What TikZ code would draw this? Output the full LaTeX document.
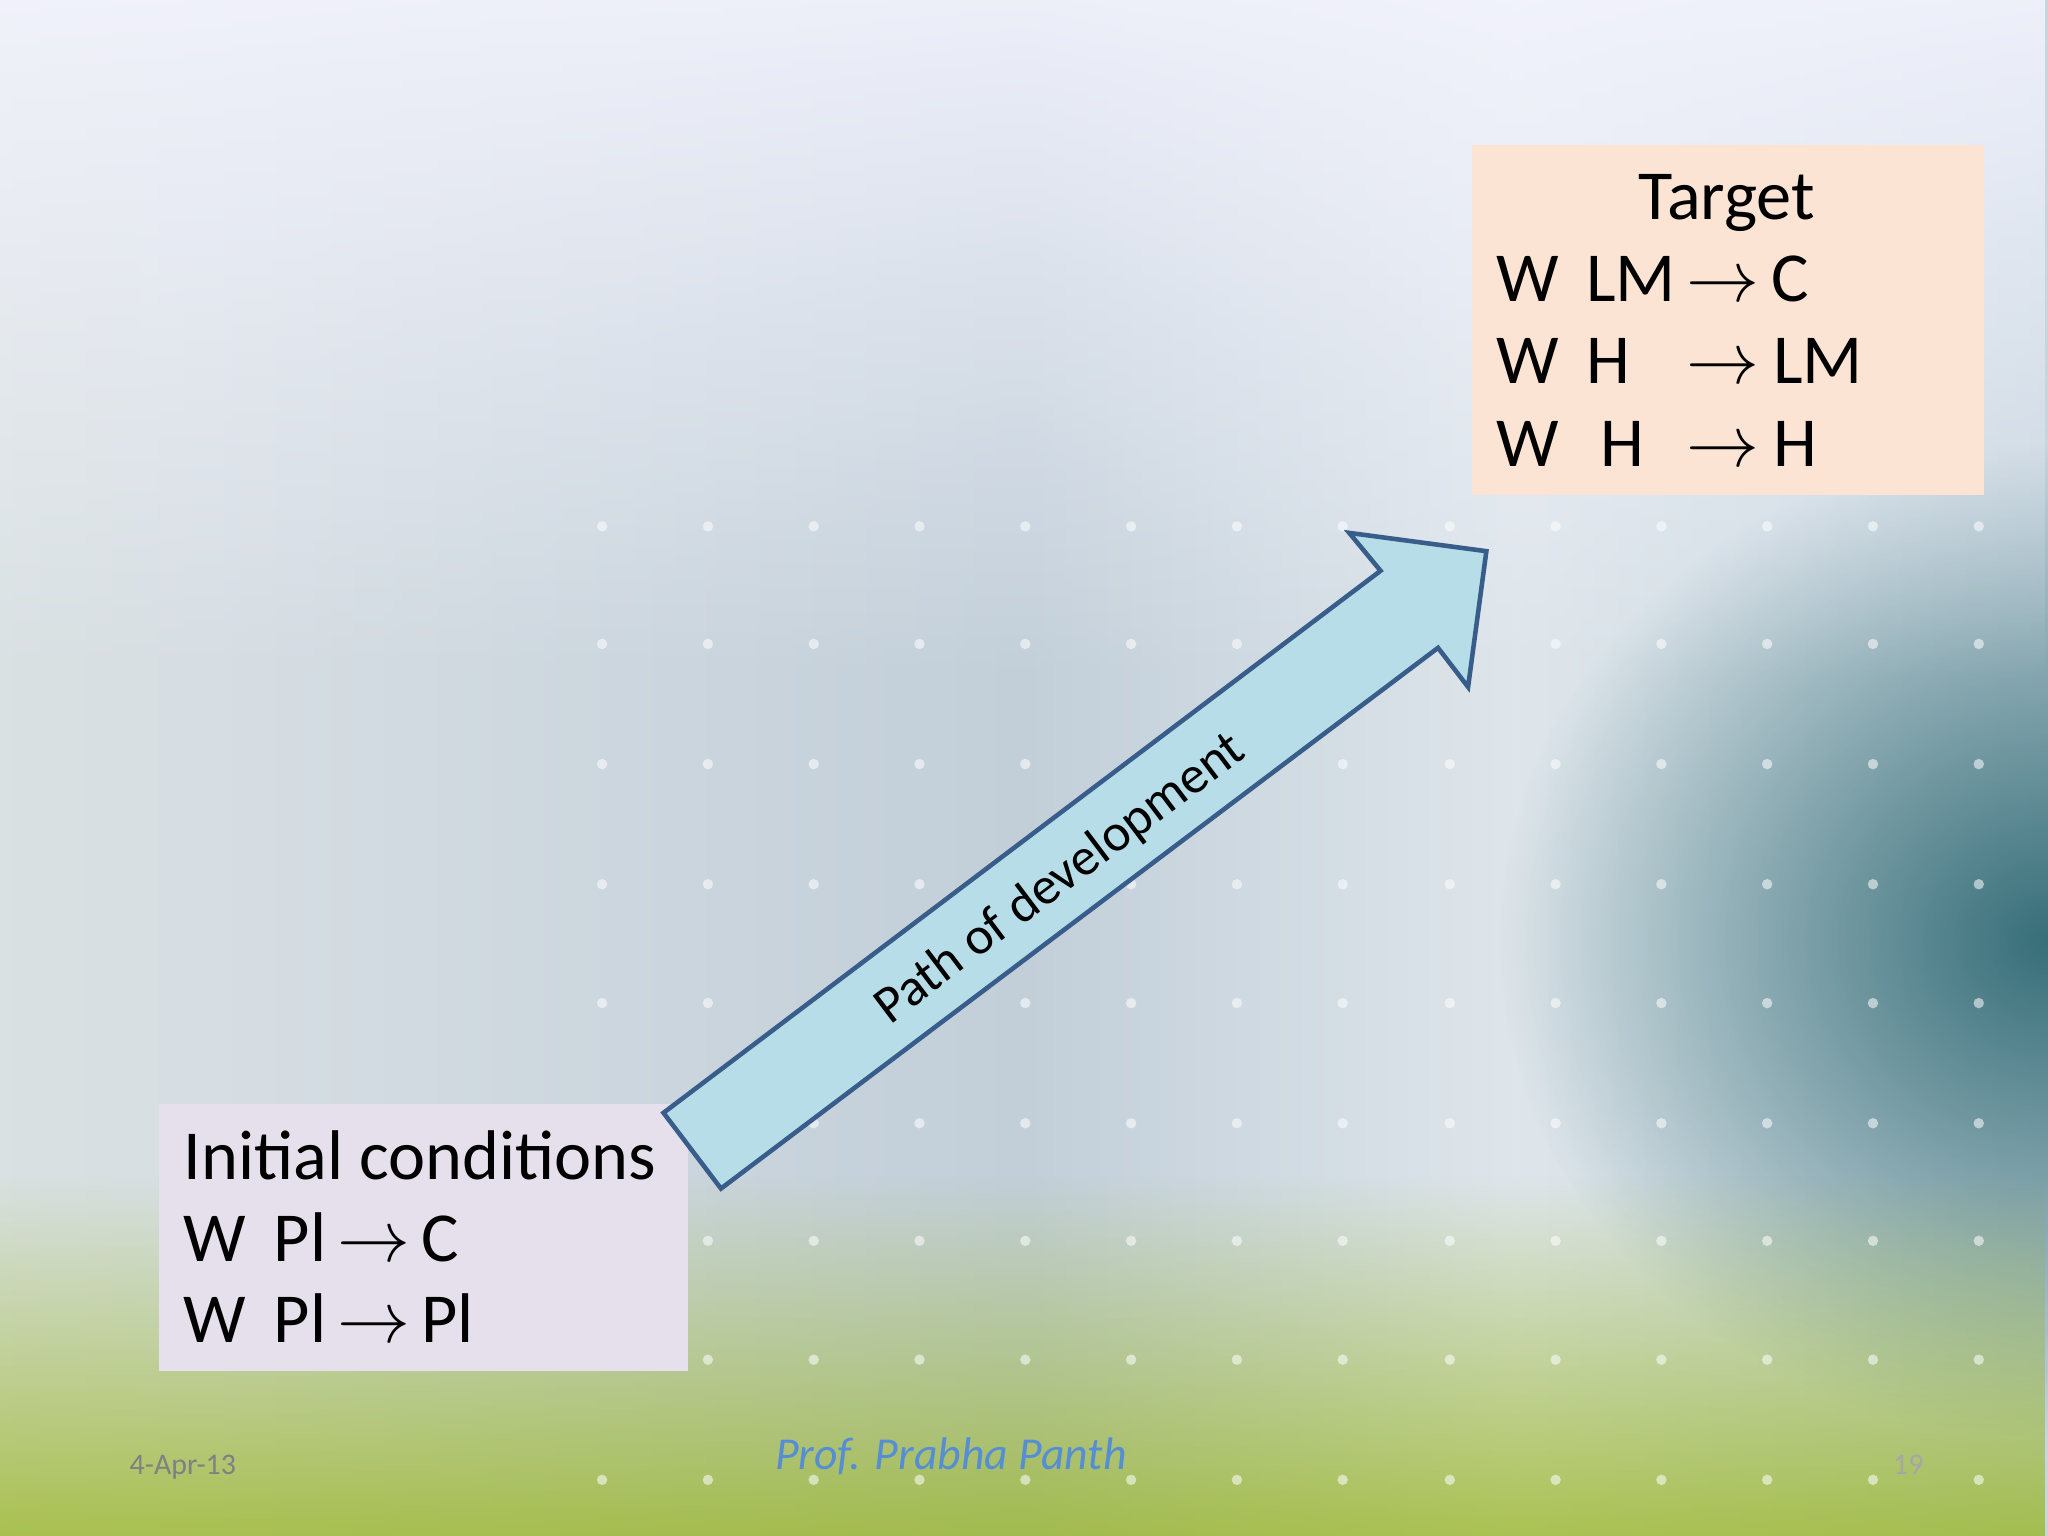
\documentclass[tikz,border=0pt]{standalone}
\usepackage{fontspec}
\setmainfont{Carlito}
\usetikzlibrary{fadings}
\definecolor{arrfill}{RGB}{183,222,232}
\definecolor{arrline}{RGB}{56,93,138}
\definecolor{lav}{RGB}{230,224,236}
\definecolor{peach}{RGB}{252,228,212}
\definecolor{authc}{RGB}{85,142,213}
\definecolor{tealbg}{RGB}{40,100,110}
\tikzfading[name=softblob, inner color=transparent!0, outer color=transparent!100]
\pgfdeclarehorizontalshading{bgh}{100bp}{
  rgb(0bp)=(0.90,0.91,0.80);
  rgb(12bp)=(0.88,0.91,0.87);
  rgb(30bp)=(0.84,0.87,0.89);
  rgb(50bp)=(0.76,0.81,0.85);
  rgb(62bp)=(0.87,0.90,0.92);
  rgb(78bp)=(0.76,0.82,0.86);
  rgb(100bp)=(0.70,0.78,0.82)}
\begin{document}
\begin{tikzpicture}[x=0.013061cm,y=-0.013061cm,
  tok/.style={anchor=base west,inner sep=0pt,font=\fontsize{20}{24}\selectfont},
  arrowshape/.style={fill=arrfill, draw=arrline, line width=1.3pt, line join=miter}]
\useasboundingbox (0,0) rectangle (1568,1176);
% background
\shade[shading=bgh] (0,0) rectangle (1568,1176);
\fill[tealbg, path fading=softblob, opacity=0.9] (1568,720) ellipse (420 and 380);
\fill[white!96!blue, path fading=south] (0,-100) rectangle (1568,520);
\fill[olive!60!green!70!yellow, path fading=north, opacity=0.7] (0,900) rectangle (1568,1176);
\foreach \x in {461,542,623,704,785,866,947,1028,1110,1191,1272,1353,1434,1515}
  \foreach \y in {403,493,585,677,768,860,950,1041,1133}
    \fill[white,opacity=0.55] (\x,\y) circle (4);
% boxes
\fill[lav] (122,845) rectangle (527,1050);
\fill[peach] (1127,111) rectangle (1519,379);
% arrow
\draw[arrowshape] (508,852) -- (1057,437) -- (1033,408) -- (1138,422) -- (1124,526) -- (1101,496) -- (552,910) -- cycle;
\node[rotate=37, font=\fontsize{15}{18}\selectfont] (path) at (812,673) {Path of development};
% initial text
\node[tok] (i0) at (140,903) {Initial conditions};
\node[tok] (i1a) at (140,966) {W}; \node[tok] (i1b) at (209,966) {Pl}; \node[tok] (i1c) at (258,966) {$\rightarrow$}; \node[tok] (i1d) at (322,966) {C};
\node[tok] (i2a) at (140,1028) {W}; \node[tok] (i2b) at (209,1028) {Pl}; \node[tok] (i2c) at (258,1028) {$\rightarrow$}; \node[tok] (i2d) at (322,1028) {Pl};
% target text
\node[tok,anchor=base] (t0) at (1322,168) {Target};
\node[tok] (t1a) at (1145,231) {W}; \node[tok] (t1b) at (1214,231) {LM}; \node[tok] (t1c) at (1291,231) {$\rightarrow$}; \node[tok] (t1d) at (1356,231) {C};
\node[tok] (t2a) at (1145,294) {W}; \node[tok] (t2b) at (1214,294) {H}; \node[tok] (t2c) at (1291,294) {$\rightarrow$}; \node[tok] (t2d) at (1357,294) {LM};
\node[tok] (t3a) at (1145,357) {W}; \node[tok] (t3b) at (1225,357) {H}; \node[tok] (t3c) at (1291,357) {$\rightarrow$}; \node[tok] (t3d) at (1357,357) {H};
% footer
\node[anchor=base, inner sep=0pt, text=gray, font=\fontsize{8.5}{10}\selectfont] (date) at (140,1129) {4-Apr-13};
\node[anchor=base, inner sep=0pt, text=authc, font=\fontsize{13}{15}\selectfont\itshape] (auth) at (728,1125) {Prof. Prabha Panth};
\node[anchor=base, inner sep=0pt, text=gray!70, font=\fontsize{8.5}{10}\selectfont] (pg) at (1461,1129) {19};
\end{tikzpicture}
\end{document}
